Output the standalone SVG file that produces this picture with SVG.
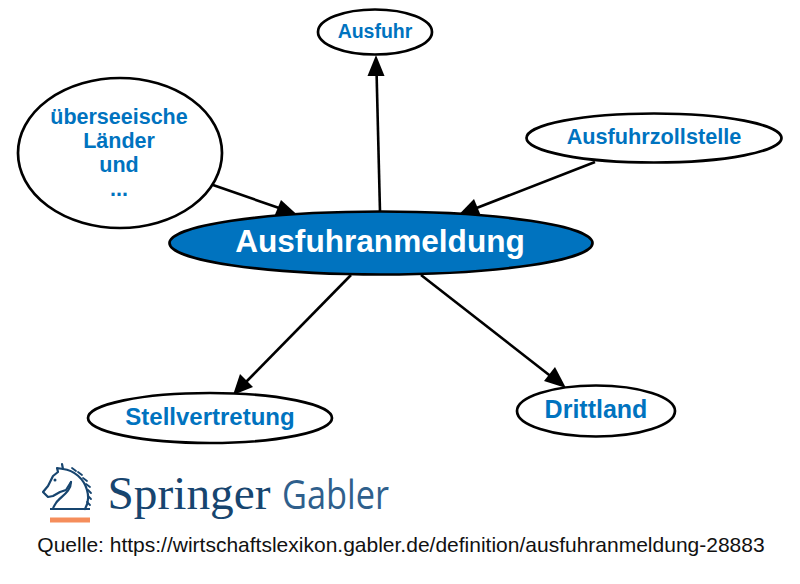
<svg xmlns="http://www.w3.org/2000/svg" width="800" height="584" viewBox="0 0 800 584">
<style>
.n{fill:#fff;stroke:#000;stroke-width:2.7}
.c{stroke:#000;stroke-width:2.6;fill:none}
.h{fill:#000}
.m{fill:none;stroke:#17456f;stroke-linejoin:round;stroke-linecap:round}
text{font-family:"Liberation Sans",Arial,sans-serif;text-anchor:middle}
.l{fill:#0073bf;font-weight:bold}
</style>
<rect width="800" height="584" fill="#fff"/>
<g id="connectors">
<line class="c" x1="380" y1="212" x2="376.500" y2="70"/><polygon class="h" points="376,55 367.500,76 384.500,76"/>
<line class="c" x1="213" y1="185" x2="282" y2="209"/><polygon class="h" points="298,215.500 281,200 274,217"/>
<line class="c" x1="595" y1="162" x2="474" y2="209"/><polygon class="h" points="458,215.500 474,199 481,216"/>
<line class="c" x1="351" y1="275" x2="245" y2="383"/><polygon class="h" points="233,395 240,374 253,387"/>
<line class="c" x1="421" y1="275" x2="553" y2="378"/><polygon class="h" points="566,388 544,381 555,367"/>
</g>
<g id="node-ausfuhr"><ellipse class="n" cx="375" cy="32" rx="57" ry="22.500"/><text class="l" x="375" y="38" font-size="19.500">Ausfuhr</text></g>
<g id="node-ueberseeische"><ellipse class="n" cx="120" cy="153" rx="102" ry="75"/>
<text class="l" x="119" y="124" font-size="21.500">überseeische</text><text class="l" x="119" y="148" font-size="21.500">Länder</text><text class="l" x="119" y="172" font-size="21.500">und</text><text class="l" x="119" y="196" font-size="21.500">...</text></g>
<g id="node-ausfuhrzollstelle"><ellipse class="n" cx="654" cy="138" rx="127.500" ry="24.500"/><text class="l" x="654" y="144" font-size="21.700">Ausfuhrzollstelle</text></g>
<g id="node-ausfuhranmeldung"><ellipse cx="381" cy="243" rx="211.500" ry="31.500" fill="#0073bf" stroke="#000" stroke-width="2.700"/><text x="380" y="252" font-size="31.600" font-weight="bold" fill="#fff">Ausfuhranmeldung</text></g>
<g id="node-stellvertretung"><ellipse class="n" cx="210" cy="418" rx="122" ry="25"/><text class="l" x="210" y="425" font-size="24">Stellvertretung</text></g>
<g id="node-drittland"><ellipse class="n" cx="596" cy="411" rx="79" ry="25.500"/><text class="l" x="596" y="418" font-size="25">Drittland</text></g>
<g id="logo">
<path class="m" stroke-width="2.200" d="M62 464L63 469L57 468L58 472L53 476L48 486L43 492L48 497L53 496L60 492L66 490L71 482"/>
<path class="m" stroke-width="2.200" d="M63 469C74 470 84 479 87 490C89 497 88 504 85 509"/>
<path class="m" stroke-width="2.200" d="M71 482C71 492 60 497 56 503C54 506 53 508 53 509"/>
<path class="m" stroke-width="1.800" d="M72 468L76 471M78 472L82 475M83 478L87 481M86 484L90 487M88 490L91 493M88 496L91 499M87 502L90 505"/>
<circle cx="55" cy="480" r="1.500" fill="#17456f"/>
<line x1="50" y1="509" x2="90" y2="509" stroke="#17456f" stroke-width="2"/>
<line x1="50" y1="520" x2="90" y2="520" stroke="#f58d5b" stroke-width="5"/>
<text x="189" y="509" font-size="47" fill="#17456f" textLength="163" lengthAdjust="spacingAndGlyphs" style="font-family:'Liberation Serif',serif;-webkit-text-stroke:.5px #17456f">Springer</text>
<text x="335.500" y="509" font-size="40" fill="#2f5f8c" textLength="107" lengthAdjust="spacingAndGlyphs" style="font-family:'Open Sans',sans-serif">Gabler</text>
</g>
<text x="401" y="552" font-size="21" fill="#111">Quelle: https://wirtschaftslexikon.gabler.de/definition/ausfuhranmeldung-28883</text>
</svg>
